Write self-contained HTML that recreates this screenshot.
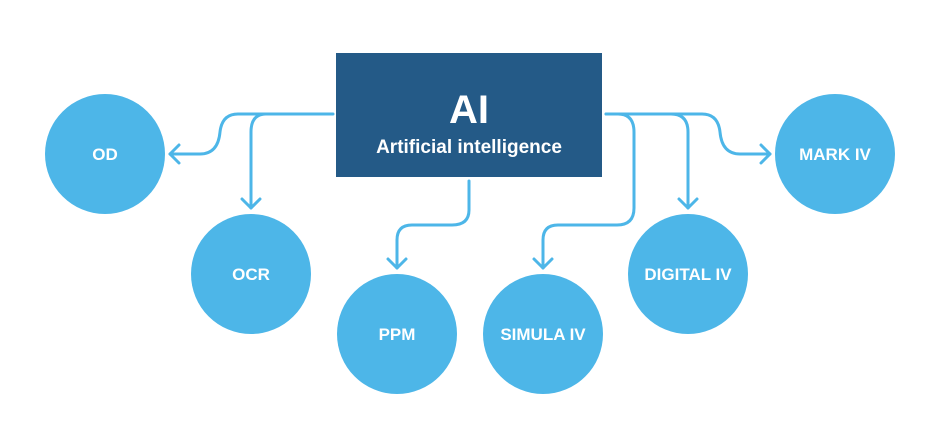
<!DOCTYPE html>
<html><head><meta charset="utf-8"><style>
html,body{margin:0;padding:0;background:#fff;width:940px;height:448px;overflow:hidden}
</style></head><body>
<svg width="940" height="448" viewBox="0 0 940 448" xmlns="http://www.w3.org/2000/svg">
<g fill="none" stroke="#4DB6E8" stroke-width="3" stroke-linecap="round" stroke-linejoin="round">
<!-- left trunk -->
<path d="M333 114 H238 Q222 114 220 132 Q218 154 200 154 H170"/>
<path d="M179 145 L170 154 L179 163"/>
<path d="M280 114 H266 Q251 114 251 132 V208"/>
<path d="M242 199 L251 208 L260 199"/>
<!-- PPM -->
<path d="M469 181 V210 Q469 225 452 225 H412 Q397 225 397 240 V268"/>
<path d="M388 259 L397 268 L406 259"/>
<!-- right trunk -->
<path d="M606 114 H702 Q718 114 720 132 Q722 154 740 154 H770"/>
<path d="M761 145 L770 154 L761 163"/>
<path d="M655 114 H671 Q688 114 688 132 V208"/>
<path d="M679 199 L688 208 L697 199"/>
<path d="M606 114 H618 Q634 114 634 132 V208 Q634 225 617 225 H558 Q543 225 543 240 V268"/>
<path d="M534 259 L543 268 L552 259"/>
</g>
<rect x="336" y="53" width="266" height="124" fill="#245A87"/>
<g font-family="Liberation Sans, sans-serif" fill="#fff" text-anchor="middle" font-weight="bold">
<text x="469" y="123" font-size="40">AI</text>
<text x="469" y="153" font-size="19">Artificial intelligence</text>
</g>
<g fill="#4DB6E8">
<circle cx="105" cy="154" r="60"/>
<circle cx="251" cy="274" r="60"/>
<circle cx="397" cy="334" r="60"/>
<circle cx="543" cy="334" r="60"/>
<circle cx="688" cy="274" r="60"/>
<circle cx="835" cy="154" r="60"/>
</g>
<g font-family="Liberation Sans, sans-serif" fill="#fff" text-anchor="middle" font-weight="bold" font-size="17">
<text x="105" y="160">OD</text>
<text x="251" y="280">OCR</text>
<text x="397" y="340">PPM</text>
<text x="543" y="340">SIMULA IV</text>
<text x="688" y="280">DIGITAL IV</text>
<text x="835" y="160">MARK IV</text>
</g>
</svg>
</body></html>
